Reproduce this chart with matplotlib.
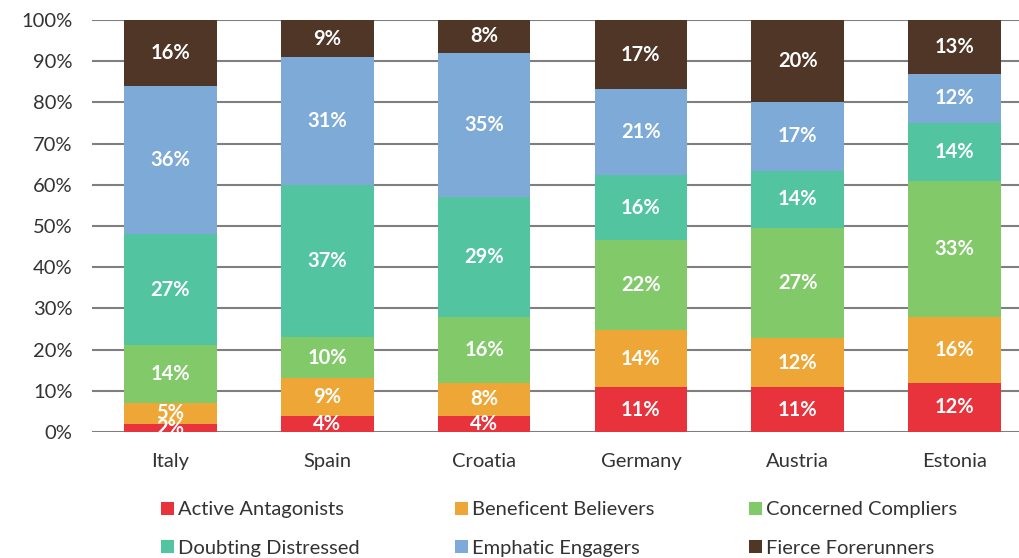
import matplotlib
matplotlib.use("Agg")
import matplotlib.pyplot as plt
import numpy as np

countries = ["Italy", "Spain", "Croatia", "Germany", "Austria", "Estonia"]
segments = ["Active Antagonists", "Beneficent Believers", "Concerned Compliers",
            "Doubting Distressed", "Emphatic Engagers", "Fierce Forerunners"]
active = [2, 4, 4, 11, 11, 12]
beneficent = [5, 9, 8, 14, 12, 16]
concerned = [14, 10, 16, 22, 27, 33]
doubting = [27, 37, 29, 16, 14, 14]
emphatic = [36, 31, 35, 21, 17, 12]
fierce = [16, 9, 8, 17, 20, 13]
colors = ['#e8323c', '#eea737', '#82c96a', '#52c4a0', '#7daad6', '#4f3626']

plt.rcParams['font.family'] = ['Lato', 'DejaVu Sans']

fig = plt.figure(figsize=(10.2, 5.58), dpi=100)
ax = fig.add_axes([92 / 1020, 126 / 558, 941 / 1020, 412 / 558])

data = np.array([active, beneficent, concerned, doubting, emphatic, fierce], dtype=float)
shares = data / data.sum(axis=0) * 100
x = np.arange(len(countries))
bottom = np.zeros(len(countries))
handles = []
for i, name in enumerate(segments):
    bars = ax.bar(x, shares[i], 0.59, bottom=bottom, color=colors[i], label=name, zorder=2)
    handles.append(bars)
    for j in range(len(countries)):
        ax.text(x[j], bottom[j] + shares[i][j] / 2, f"{int(data[i][j])}%", ha='center', va='center',
                color='white', fontsize=14.5, fontweight='bold', zorder=3)
    bottom += shares[i]

ax.set_xlim(-0.5, 5.5)
ax.set_ylim(0, 100)
ax.set_yticks(range(0, 101, 10))
ax.set_yticklabels([f"{v}%" for v in range(0, 101, 10)])
ax.set_xticks(x)
ax.set_xticklabels(countries)
ax.tick_params(axis='both', length=0, labelsize=14.5, colors='#333333')
ax.tick_params(axis='x', pad=15)
ax.tick_params(axis='y', pad=14)
ax.yaxis.grid(True, color='#7f7f7f', linewidth=1.5, zorder=0)
ax.set_axisbelow(True)
for s in ax.spines.values():
    s.set_visible(False)

# row-wise ordering for a 3-column legend
order = [0, 3, 1, 4, 2, 5]
fig.legend([handles[k] for k in order], [segments[k] for k in order], ncol=3, frameon=False,
           loc='lower left', bbox_to_anchor=(143 / 1020, -0.03), fontsize=14.5,
           handlelength=0.65, handleheight=0.65, handletextpad=0.2, columnspacing=4.7,
           labelspacing=1.05, labelcolor='#333333')

plt.savefig("out.png", dpi=100)
